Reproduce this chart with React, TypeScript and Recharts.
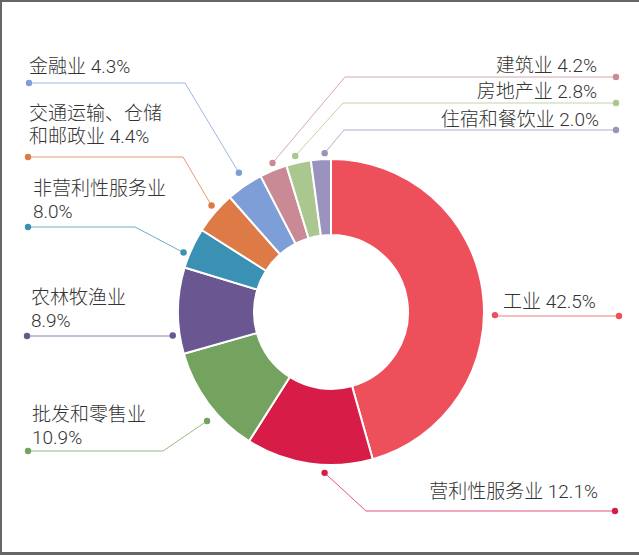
import React from "react";
import { PieChart, Pie, Cell } from "recharts";

// industry names, label text and the slice sizes as drawn in the picture
const industries = [
  "工业",
  "营利性服务业",
  "批发和零售业",
  "农林牧渔业",
  "非营利性服务业",
  "交通运输、仓储和邮政业",
  "金融业",
  "建筑业",
  "房地产业",
  "住宿和餐饮业",
];
const shares = [45.6, 13.4, 11.6, 9.1, 4.3, 4.5, 3.9, 2.9, 2.6, 2.1];
const labelLines = [
  ["工业 42.5%"],
  ["营利性服务业 12.1%"],
  ["批发和零售业", "10.9%"],
  ["农林牧渔业", "8.9%"],
  ["非营利性服务业", "8.0%"],
  ["交通运输、仓储", "和邮政业 4.4%"],
  ["金融业 4.3%"],
  ["建筑业 4.2%"],
  ["房地产业 2.8%"],
  ["住宿和餐饮业 2.0%"],
];

const colors = [
  "#EE505B",
  "#D81C48",
  "#74A25F",
  "#6A5690",
  "#3A91B3",
  "#DD7A45",
  "#7E9ED8",
  "#CA8A95",
  "#A9C78F",
  "#9A93BE",
];

// leader line layout: angle nudge (deg, clockwise), extra radius, elbow, end x, text
type Layout = {
  nudge: number;
  dr: number;
  elbow: [number, number];
  endX: number;
  textX: number;
  baseline: number;
  anchor: "start" | "end";
};

const layout: Layout[] = [
  { nudge: 9, dr: 11, elbow: [496, 316], endX: 619, textX: 503, baseline: 308, anchor: "start" },
  { nudge: -6, dr: 8, elbow: [366, 511], endX: 615, textX: 598, baseline: 498, anchor: "end" },
  { nudge: -4.6, dr: 12, elbow: [163, 451], endX: 28, textX: 32, baseline: 421, anchor: "start" },
  { nudge: -9, dr: 7, elbow: [172, 336], endX: 27, textX: 31, baseline: 304, anchor: "start" },
  { nudge: -2.7, dr: 6, elbow: [135, 227], endX: 28, textX: 33, baseline: 195, anchor: "start" },
  { nudge: 1.2, dr: 7, elbow: [183, 157], endX: 28, textX: 29, baseline: 120, anchor: "start" },
  { nudge: 0.9, dr: 14, elbow: [185, 83], endX: 29, textX: 29, baseline: 73, anchor: "start" },
  { nudge: 0.7, dr: 7, elbow: [345, 77], endX: 616, textX: 597, baseline: 72, anchor: "end" },
  { nudge: -0.7, dr: 7, elbow: [343, 103], endX: 616, textX: 597, baseline: 98, anchor: "end" },
  { nudge: 1.5, dr: 6, elbow: [344, 130], endX: 616, textX: 599, baseline: 126, anchor: "end" },
];

const data = industries.map((name, i) => ({ name, value: shares[i] }));

const RAD = Math.PI / 180;

const renderLabel = (props: any) => {
  const { cx, cy, midAngle, outerRadius, index } = props;
  const l = layout[index];
  const color = colors[index];
  const a = midAngle - l.nudge;
  const r = outerRadius + l.dr;
  const x = cx + Math.cos(-a * RAD) * r;
  const y = cy + Math.sin(-a * RAD) * r;
  const [ex, ey] = l.elbow;
  return (
    <g key={`lbl-${index}`}>
      <polyline
        points={`${x},${y} ${ex},${ey} ${l.endX},${ey}`}
        fill="none"
        stroke={color}
        strokeOpacity={0.75}
        strokeWidth={1}
      />
      <circle cx={x} cy={y} r={3.2} fill={color} />
      <circle cx={l.endX} cy={ey} r={3.2} fill={color} />
      <text
        x={l.textX}
        y={l.baseline}
        textAnchor={l.anchor}
        fill="#333"
        fontSize={19}
        fontWeight={300}
        fontFamily="Roboto, 'Noto Sans CJK SC', sans-serif"
      >
        {labelLines[index].map((t, j) => (
          <tspan key={j} x={l.textX} dy={j === 0 ? 0 : 23}>
            {t}
          </tspan>
        ))}
      </text>
    </g>
  );
};

export default function App() {
  return (
    <div style={{ position: "absolute", left: 0, top: 0, width: 639, height: 555, background: "#fff" }}>
      <PieChart width={639} height={555} margin={{ top: 0, right: 0, bottom: 0, left: 0 }}>
        <Pie
          data={data}
          dataKey="value"
          nameKey="name"
          cx={331}
          cy={312}
          innerRadius={77}
          outerRadius={153}
          startAngle={90}
          endAngle={-270}
          stroke="#fff"
          strokeWidth={2}
          label={renderLabel}
          labelLine={false}
          isAnimationActive={false}
        >
          {data.map((d, i) => (
            <Cell key={d.name} fill={colors[i]} />
          ))}
        </Pie>
      </PieChart>
      <div
        style={{
          position: "absolute",
          inset: 0,
          boxSizing: "border-box",
          borderLeft: "2px solid #666",
          borderTop: "2px solid #666",
          borderBottom: "3px solid #666",
          pointerEvents: "none",
        }}
      />
    </div>
  );
}
